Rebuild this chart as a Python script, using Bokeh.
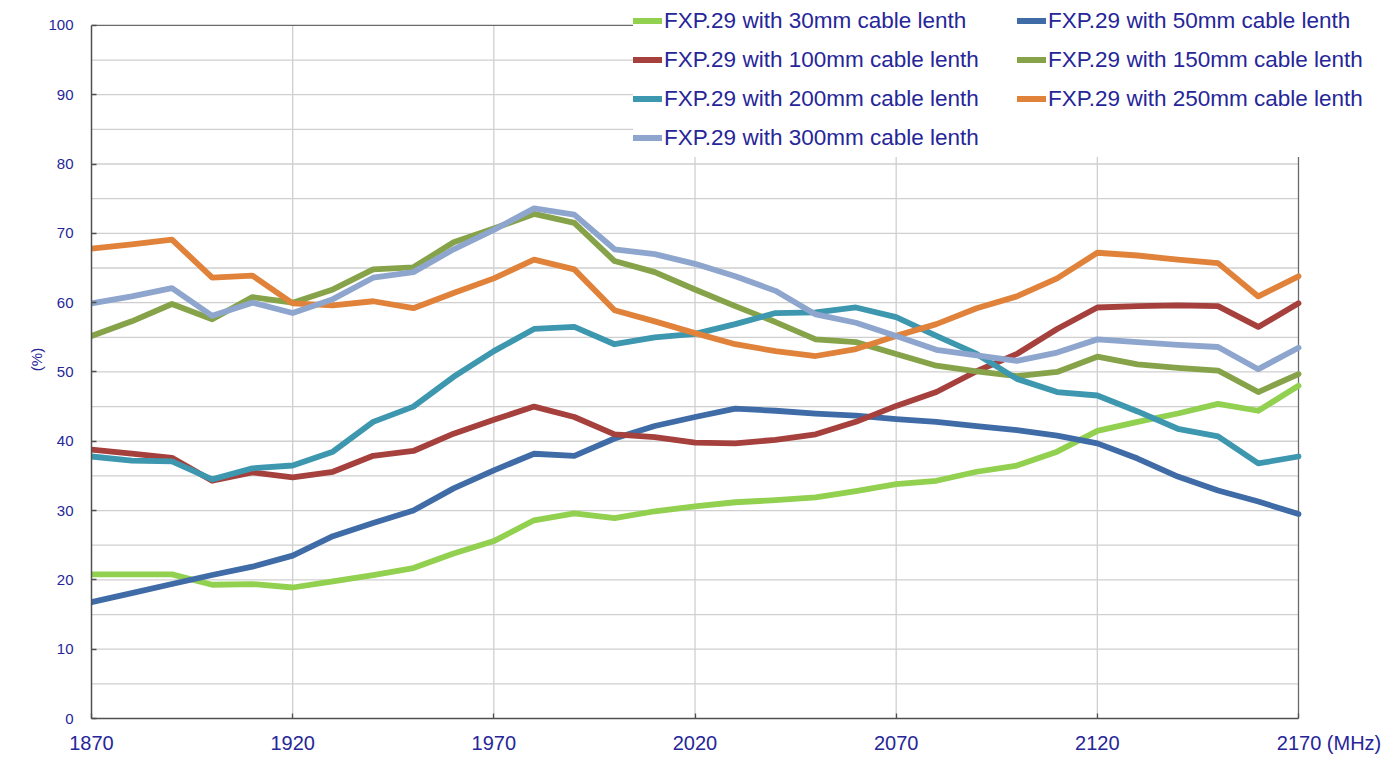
from bokeh.plotting import figure
from bokeh.models import Legend, LegendItem, FixedTicker, Range1d
from bokeh.embed import file_html
from bokeh.resources import INLINE

freq = [1870, 1880, 1890, 1900, 1910, 1920, 1930, 1940, 1950, 1960, 1970,
        1980, 1990, 2000, 2010, 2020, 2030, 2040, 2050, 2060, 2070,
        2080, 2090, 2100, 2110, 2120, 2130, 2140, 2150, 2160, 2170]

eff_30 = [20.8, 20.8, 20.8, 19.3, 19.4, 18.9, 19.8, 20.7, 21.7, 23.8, 25.6,
          28.6, 29.6, 28.9, 29.9, 30.6, 31.2, 31.5, 31.9, 32.8, 33.8,
          34.3, 35.6, 36.5, 38.5, 41.5, 42.8, 44.0, 45.4, 44.4, 48.0]
eff_50 = [16.8, 18.1, 19.4, 20.7, 21.9, 23.5, 26.3, 28.2, 30.0, 33.2, 35.8,
          38.2, 37.9, 40.4, 42.2, 43.5, 44.7, 44.4, 44.0, 43.7, 43.2,
          42.8, 42.2, 41.6, 40.8, 39.7, 37.5, 34.9, 32.9, 31.3, 29.5]
eff_100 = [38.8, 38.2, 37.6, 34.3, 35.5, 34.8, 35.6, 37.9, 38.6, 41.1, 43.1,
           45.0, 43.5, 41.0, 40.6, 39.8, 39.7, 40.2, 41.0, 42.8, 45.1,
           47.1, 50.1, 52.6, 56.2, 59.3, 59.5, 59.6, 59.5, 56.5, 59.9]
eff_150 = [55.2, 57.3, 59.8, 57.6, 60.8, 60.0, 61.9, 64.8, 65.1, 68.7, 70.7,
           72.8, 71.5, 66.0, 64.4, 61.9, 59.5, 57.2, 54.7, 54.3, 52.6,
           50.9, 50.1, 49.4, 50.0, 52.2, 51.1, 50.6, 50.2, 47.1, 49.7]
eff_200 = [37.8, 37.2, 37.1, 34.5, 36.1, 36.5, 38.5, 42.8, 45.0, 49.3, 53.0,
           56.2, 56.5, 54.0, 55.0, 55.5, 56.9, 58.5, 58.6, 59.3, 57.9,
           55.2, 52.6, 49.0, 47.1, 46.6, 44.3, 41.8, 40.7, 36.8, 37.8]
eff_250 = [67.8, 68.4, 69.1, 63.6, 63.9, 59.9, 59.6, 60.2, 59.2, 61.4, 63.5,
           66.2, 64.8, 58.9, 57.3, 55.6, 54.0, 53.0, 52.3, 53.3, 55.2,
           56.9, 59.2, 60.9, 63.5, 67.2, 66.8, 66.2, 65.7, 60.9, 63.8]
eff_300 = [59.9, 60.9, 62.1, 58.1, 60.0, 58.5, 60.5, 63.6, 64.4, 67.7, 70.5,
           73.6, 72.7, 67.7, 67.0, 65.6, 63.8, 61.7, 58.3, 57.1, 55.2,
           53.2, 52.4, 51.6, 52.8, 54.7, 54.3, 53.9, 53.6, 50.4, 53.5]

series_names = ["FXP.29 with 30mm cable lenth", "FXP.29 with 50mm cable lenth",
                "FXP.29 with 100mm cable lenth", "FXP.29 with 150mm cable lenth",
                "FXP.29 with 200mm cable lenth", "FXP.29 with 250mm cable lenth",
                "FXP.29 with 300mm cable lenth"]
series_values = [eff_30, eff_50, eff_100, eff_150, eff_200, eff_250, eff_300]
series_colors = ["#92D050", "#3F6BA6", "#A5403D", "#86A34A", "#3D97AF", "#E0823A", "#8EA6CE"]

x_ticks = [1870, 1920, 1970, 2020, 2070, 2120, 2170]
x_unit = "(MHz)"
y_ticks = [0, 10, 20, 30, 40, 50, 60, 70, 80, 90, 100]
y_minor = [5, 15, 25, 35, 45, 55, 65, 75, 85, 95]
y_label = "(%)"

TXT = "#262699"
FONT = "Liberation Sans"
GRID = "#cfcfcf"
BORDER = "#6a6a6a"

W, H = 1392, 756
LEFT, BOTTOM = 91, 35
PX_PER_MHZ = 1207 / 300.0
PX_PER_PCT = 696 / 100.0
x_end = x_ticks[0] + (W - LEFT) / PX_PER_MHZ
y_end = (H - BOTTOM) / PX_PER_PCT

p = figure(width=W, height=H, x_range=Range1d(x_ticks[0], x_end), y_range=Range1d(0, y_end),
           output_backend="svg", toolbar_location=None,
           min_border_left=LEFT, min_border_right=0, min_border_top=0, min_border_bottom=BOTTOM)

p.outline_line_color = None
p.xgrid.visible = False
p.ygrid.visible = False

p.xaxis.ticker = FixedTicker(ticks=x_ticks)
p.yaxis.ticker = FixedTicker(ticks=y_ticks)
p.xaxis.bounds = (x_ticks[0], x_ticks[-1])
p.yaxis.bounds = (y_ticks[0], y_ticks[-1])

for ax in (p.xaxis, p.yaxis):
    ax.axis_line_color = "#505050"
    ax.axis_line_width = 1.5
    ax.major_tick_line_color = "#505050"
    ax.major_tick_line_width = 1.3
    ax.major_tick_in = 5
    ax.major_tick_out = 0
    ax.minor_tick_in = 0
    ax.minor_tick_out = 0
    ax.major_label_text_color = TXT
    ax.major_label_text_font = FONT

# keep "2170" centred on its tick and put the unit to its right
pad = "\u00a0" * 11
p.xaxis.major_label_overrides = {x_ticks[-1]: pad + str(x_ticks[-1]) + " " + x_unit}
p.xaxis.major_label_text_font_size = "20px"
p.xaxis.major_label_standoff = 13
p.yaxis.major_label_text_font_size = "15px"
p.yaxis.major_label_standoff = 18
p.yaxis.axis_label = y_label
p.yaxis.axis_label_text_font_size = "15px"
p.yaxis.axis_label_text_font_style = "normal"
p.yaxis.axis_label_text_color = TXT
p.yaxis.axis_label_text_font = FONT
p.yaxis.axis_label_standoff = 0

# grid lines (limited to the 0-100 / 1870-2170 box)
h_levels = y_ticks[1:-1] + y_minor
p.segment(x0=[x_ticks[0]] * len(h_levels), x1=[x_ticks[-1]] * len(h_levels),
          y0=h_levels, y1=h_levels, line_color=GRID, line_width=1.3)
v_levels = x_ticks[1:-1]
p.segment(x0=v_levels, x1=v_levels, y0=[y_ticks[0]] * len(v_levels),
          y1=[y_ticks[-1]] * len(v_levels), line_color=GRID, line_width=1.3)
# plot box top and right edges
p.segment(x0=[x_ticks[0], x_ticks[-1]], x1=[x_ticks[-1], x_ticks[-1]],
          y0=[y_ticks[-1], y_ticks[0]], y1=[y_ticks[-1], y_ticks[-1]],
          line_color=BORDER, line_width=1.3)

renderers = []
for name, vals, col in zip(series_names, series_values, series_colors):
    r = p.line(freq, vals, line_color=col, line_width=5.8, line_join="round", line_cap="round")
    renderers.append(r)

items = [LegendItem(label=n, renderers=[r]) for n, r in zip(series_names, renderers)]
legend = Legend(items=items, location=(542, 561), orientation="horizontal", ncols=2,
                padding=6, spacing=0, margin=0,
                glyph_width=29, glyph_height=39, label_height=39, label_width=353,
                label_standoff=2,
                label_text_font=FONT, label_text_font_size="22.5px", label_text_color=TXT,
                background_fill_color="white", background_fill_alpha=1.0,
                border_line_color=None)
p.add_layout(legend, "center")

open("out.html", "w").write(file_html(p, INLINE))
